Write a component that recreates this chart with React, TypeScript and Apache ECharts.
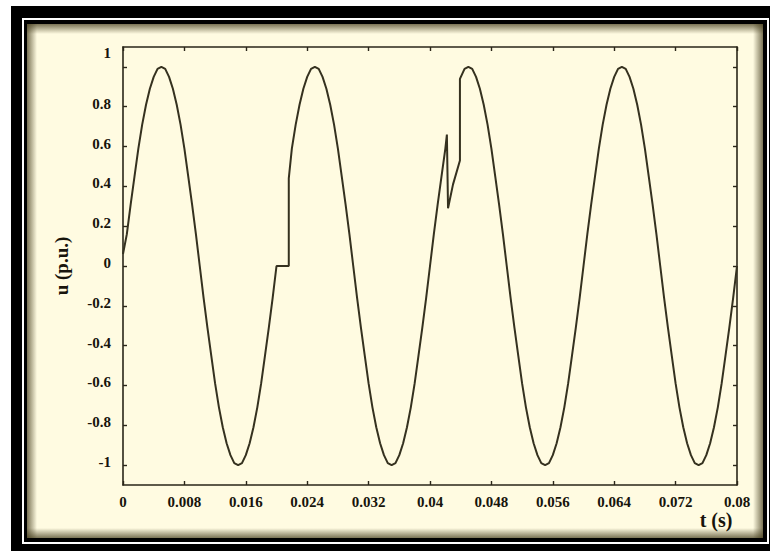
import React, { useEffect, useRef } from "react";
import * as echarts from "echarts";

// tick values (labels are these numbers)
const xTickValues = [0, 0.008, 0.016, 0.024, 0.032, 0.04, 0.048, 0.056, 0.064, 0.072, 0.08];
const yTickValues = [-1, -0.8, -0.6, -0.4, -0.2, 0, 0.2, 0.4, 0.6, 0.8, 1];

// [t (s), u (p.u.)], one cycle at a time
const cycle1 = [
  [0, 0.06], [0.0005, 0.16], [0.001, 0.31], [0.0015, 0.45], [0.002, 0.59], [0.0025, 0.71],
  [0.003, 0.81], [0.0035, 0.89], [0.004, 0.95], [0.0045, 0.99], [0.005, 1.0], [0.0055, 0.99],
  [0.006, 0.95], [0.0065, 0.89], [0.007, 0.81], [0.0075, 0.71], [0.008, 0.59], [0.0085, 0.45],
  [0.009, 0.31], [0.0095, 0.16], [0.01, 0], [0.0105, -0.16], [0.011, -0.31], [0.0115, -0.45],
  [0.012, -0.59], [0.0125, -0.71], [0.013, -0.81], [0.0135, -0.89], [0.014, -0.95], [0.0145, -0.99],
  [0.015, -1.0], [0.0155, -0.99], [0.016, -0.95], [0.0165, -0.89], [0.017, -0.81], [0.0175, -0.71],
  [0.018, -0.59], [0.0185, -0.45], [0.019, -0.31], [0.0195, -0.16],
];
// zero-voltage hold then jump back
const cycle2 = [
  [0.02, 0], [0.0208, 0], [0.0216, 0], [0.0216, 0.44], [0.022, 0.59], [0.0225, 0.71],
  [0.023, 0.81], [0.0235, 0.89], [0.024, 0.95], [0.0245, 0.99], [0.025, 1.0], [0.0255, 0.99],
  [0.026, 0.95], [0.0265, 0.89], [0.027, 0.81], [0.0275, 0.71], [0.028, 0.59], [0.0285, 0.45],
  [0.029, 0.31], [0.0295, 0.16], [0.03, 0], [0.0305, -0.16], [0.031, -0.31], [0.0315, -0.45],
  [0.032, -0.59], [0.0325, -0.71], [0.033, -0.81], [0.0335, -0.89], [0.034, -0.95], [0.0345, -0.99],
  [0.035, -1.0], [0.0355, -0.99], [0.036, -0.95], [0.0365, -0.89], [0.037, -0.81], [0.0375, -0.71],
  [0.038, -0.59], [0.0385, -0.45], [0.039, -0.31], [0.0395, -0.16],
];
// spike / notch then jump back
const cycle3 = [
  [0.04, 0], [0.0405, 0.16], [0.041, 0.31], [0.0415, 0.45], [0.042, 0.59], [0.0422, 0.66],
  [0.04235, 0.29], [0.043, 0.41], [0.0439, 0.53], [0.0439, 0.94], [0.0445, 0.99], [0.045, 1.0],
  [0.0455, 0.99], [0.046, 0.95], [0.0465, 0.89], [0.047, 0.81], [0.0475, 0.71], [0.048, 0.59],
  [0.0485, 0.45], [0.049, 0.31], [0.0495, 0.16], [0.05, 0], [0.0505, -0.16], [0.051, -0.31],
  [0.0515, -0.45], [0.052, -0.59], [0.0525, -0.71], [0.053, -0.81], [0.0535, -0.89], [0.054, -0.95],
  [0.0545, -0.99], [0.055, -1.0], [0.0555, -0.99], [0.056, -0.95], [0.0565, -0.89], [0.057, -0.81],
  [0.0575, -0.71], [0.058, -0.59], [0.0585, -0.45], [0.059, -0.31], [0.0595, -0.16],
];
const cycle4 = [
  [0.06, 0], [0.0605, 0.16], [0.061, 0.31], [0.0615, 0.45], [0.062, 0.59], [0.0625, 0.71],
  [0.063, 0.81], [0.0635, 0.89], [0.064, 0.95], [0.0645, 0.99], [0.065, 1.0], [0.0655, 0.99],
  [0.066, 0.95], [0.0665, 0.89], [0.067, 0.81], [0.0675, 0.71], [0.068, 0.59], [0.0685, 0.45],
  [0.069, 0.31], [0.0695, 0.16], [0.07, 0], [0.0705, -0.16], [0.071, -0.31], [0.0715, -0.45],
  [0.072, -0.59], [0.0725, -0.71], [0.073, -0.81], [0.0735, -0.89], [0.074, -0.95], [0.0745, -0.99],
  [0.075, -1.0], [0.0755, -0.99], [0.076, -0.95], [0.0765, -0.89], [0.077, -0.81], [0.0775, -0.71],
  [0.078, -0.59], [0.0785, -0.45], [0.079, -0.31], [0.0795, -0.16], [0.08, 0],
];

const FONT = "'Liberation Serif', 'DejaVu Serif', serif";
const INK = "#17140c";
const AXIS = "#2a2618";
const LINE = "#35311f";
const CREAM = "#fffbe1";
const SHADE = "rgba(70,62,30,0.72)";
const CLEAR = "rgba(70,62,30,0)";

function grad(x2: number, y2: number, c0: string, c1: string) {
  return {
    type: "linear",
    x: 0, y: 0, x2, y2,
    colorStops: [{ offset: 0, color: c0 }, { offset: 1, color: c1 }],
  };
}

export default function App() {
  const ref = useRef<HTMLDivElement>(null);
  useEffect(() => {
    if (!ref.current) return;
    const chart = echarts.init(ref.current, undefined, { renderer: "svg" });
    const fmt = (v: number) => String(+Number(v).toFixed(3));
    const tickCommon = { show: true, inside: true, length: 4, lineStyle: { color: AXIS, width: 1.4 } };
    const lineCommon = { show: true, onZero: false, lineStyle: { color: AXIS, width: 1.6 } };
    const labelFont = { fontFamily: FONT, fontWeight: "bold" as const, fontSize: 15, color: INK };
    chart.setOption({
      animation: false,
      backgroundColor: "#ffffff",
      grid: { left: 123, top: 47, right: 33, bottom: 66, containLabel: false, outerBoundsMode: "none" },
      graphic: [
        { type: "rect", z: -100, shape: { x: 11, y: 6, width: 800, height: 600 }, style: { fill: "#000" } },
        { type: "rect", z: -99, shape: { x: 22, y: 18, width: 747, height: 526 }, style: { fill: "#fff" } },
        { type: "rect", z: -98, shape: { x: 24, y: 20, width: 743, height: 522 }, style: { fill: "#000" } },
        { type: "rect", z: -97, shape: { x: 27, y: 24, width: 736, height: 514 }, style: { fill: CREAM } },
        { type: "rect", z: -96, shape: { x: 27, y: 24, width: 736, height: 10 }, style: { fill: grad(0, 1, SHADE, CLEAR) } },
        { type: "rect", z: -96, shape: { x: 27, y: 528, width: 736, height: 10 }, style: { fill: grad(0, 1, CLEAR, SHADE) } },
        { type: "rect", z: -96, shape: { x: 27, y: 24, width: 10, height: 514 }, style: { fill: grad(1, 0, SHADE, CLEAR) } },
        { type: "rect", z: -96, shape: { x: 753, y: 24, width: 10, height: 514 }, style: { fill: grad(1, 0, CLEAR, SHADE) } },
        {
          type: "text", z: 10, x: 716, y: 520,
          style: { text: "t (s)", fontFamily: FONT, fontWeight: "bold", fontSize: 20, fill: INK, align: "center", verticalAlign: "middle" },
        },
      ],
      xAxis: [
        {
          type: "value", position: "bottom", min: 0, max: 0.08,
          axisLine: lineCommon,
          axisTick: { ...tickCommon, customValues: xTickValues },
          axisLabel: { ...labelFont, margin: 9, customValues: xTickValues, formatter: fmt },
          splitLine: { show: false },
        },
        {
          type: "value", position: "top", min: 0, max: 0.08,
          axisLine: lineCommon,
          axisTick: { ...tickCommon, customValues: xTickValues },
          axisLabel: { show: false },
          splitLine: { show: false },
        },
      ],
      yAxis: [
        {
          type: "value", position: "left", min: -1.1, max: 1.1,
          axisLine: lineCommon,
          axisTick: { ...tickCommon, customValues: yTickValues },
          axisLabel: {
            ...labelFont, margin: 12, customValues: yTickValues,
            formatter: (v: number) => (Math.abs(v - 1) < 1e-9 ? "{hi|1}" : "{n|" + fmt(v) + "}"),
            rich: {
              n: { ...labelFont, padding: [0, 0, 6, 0] },
              hi: { ...labelFont, padding: [0, 0, 28, 0] },
            },
          },
          splitLine: { show: false },
          name: "u (p.u.)",
          nameLocation: "middle",
          nameGap: 52,
          nameTextStyle: { fontFamily: FONT, fontWeight: "bold", fontSize: 19, color: INK },
        },
        {
          type: "value", position: "right", min: -1.1, max: 1.1,
          axisLine: lineCommon,
          axisTick: { ...tickCommon, customValues: yTickValues },
          axisLabel: { show: false },
          splitLine: { show: false },
        },
      ],
      series: [
        {
          type: "line",
          xAxisIndex: 0,
          yAxisIndex: 0,
          data: [...cycle1, ...cycle2, ...cycle3, ...cycle4],
          showSymbol: false,
          symbol: "none",
          lineStyle: { color: LINE, width: 2 },
          clip: true,
        },
      ],
    });
    return () => chart.dispose();
  }, []);
  return <div ref={ref} style={{ position: "fixed", left: 0, top: 0, width: 770, height: 551 }} />;
}
